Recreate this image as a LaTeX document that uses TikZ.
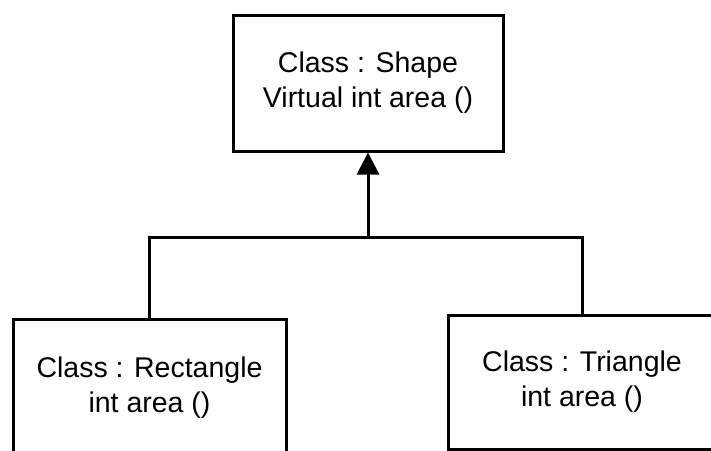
\documentclass[tikz,border=0pt]{standalone}
\usepackage{fontspec}
\setmainfont{Liberation Sans}
\usetikzlibrary{arrows.meta}
\begin{document}
\begin{tikzpicture}[x=1pt,y=-1pt,
  classbox/.style={draw=black, line width=3pt, fill=white, align=center,
    font={\fontsize{28.5}{35}\selectfont}, inner sep=0pt},
  link/.style={draw=black, line width=3pt},
  inherit/.style={draw=black, line width=3pt, -{Triangle[length=22pt,width=22pt]}}]
\useasboundingbox (0,0) rectangle (711,450);
\clip (0,0) rectangle (711,450);
\fill[white] (0,0) rectangle (711,450);
\node[classbox, minimum width=270pt, minimum height=136pt] (shape) at (368,83)
  {Class : Shape\\Virtual int area ()};
\node[classbox, minimum width=273pt, minimum height=138pt] (rect) at (149.5,388)
  {Class : Rectangle\\int area ()};
\node[classbox, minimum width=268pt, minimum height=134pt] (tri) at (582,382)
  {Class : Triangle\\int area ()};
\coordinate (bus) at (368,237);
\draw[link] (rect.north) -- (rect.north |- bus) -- (tri.north |- bus) -- (tri.north);
\draw[inherit] (bus) -- (shape.south);
\end{tikzpicture}
\end{document}
